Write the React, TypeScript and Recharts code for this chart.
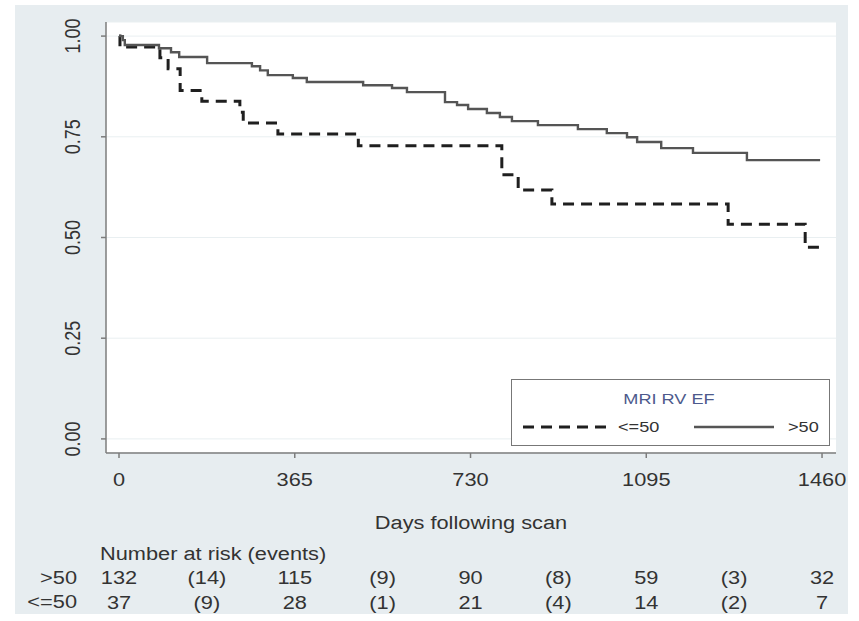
import React from 'react';
import { LineChart, Line, XAxis, YAxis, CartesianGrid, Legend } from 'recharts';

// Kaplan-Meier survival estimates, one point per step (day, survival)
const lowEfCurve = [
  { day: 0, surv: 1 },
  { day: 2, surv: 0.973 },
  { day: 85, surv: 0.946 },
  { day: 102, surv: 0.919 },
  { day: 127, surv: 0.865 },
  { day: 172, surv: 0.838 },
  { day: 251, surv: 0.811 },
  { day: 258, surv: 0.784 },
  { day: 330, surv: 0.757 },
  { day: 497, surv: 0.728 },
  { day: 795, surv: 0.656 },
  { day: 829, surv: 0.618 },
  { day: 899, surv: 0.583 },
  { day: 1265, surv: 0.533 },
  { day: 1425, surv: 0.476 },
  { day: 1458, surv: 0.476 },
];

const highEfCurve = [
  { day: 0, surv: 1 },
  { day: 8, surv: 0.99 },
  { day: 12, surv: 0.978 },
  { day: 83, surv: 0.97 },
  { day: 108, surv: 0.96 },
  { day: 125, surv: 0.948 },
  { day: 183, surv: 0.933 },
  { day: 276, surv: 0.925 },
  { day: 293, surv: 0.915 },
  { day: 309, surv: 0.903 },
  { day: 361, surv: 0.896 },
  { day: 390, surv: 0.886 },
  { day: 507, surv: 0.878 },
  { day: 567, surv: 0.871 },
  { day: 598, surv: 0.861 },
  { day: 677, surv: 0.836 },
  { day: 702, surv: 0.829 },
  { day: 725, surv: 0.819 },
  { day: 764, surv: 0.809 },
  { day: 791, surv: 0.799 },
  { day: 816, surv: 0.789 },
  { day: 870, surv: 0.779 },
  { day: 953, surv: 0.769 },
  { day: 1013, surv: 0.759 },
  { day: 1055, surv: 0.749 },
  { day: 1076, surv: 0.737 },
  { day: 1126, surv: 0.722 },
  { day: 1192, surv: 0.71 },
  { day: 1304, surv: 0.692 },
  { day: 1456, surv: 0.692 },
];

const dayTicks = [0, 365, 730, 1095, 1460];
const survivalTicks = [0, 0.25, 0.5, 0.75, 1];

// number at risk at each tick, events (in brackets) between ticks
const riskDays = [0, 182.5, 365, 547.5, 730, 912.5, 1095, 1277.5, 1460];
const riskHigh = ['132', '(14)', '115', '(9)', '90', '(8)', '59', '(3)', '32'];
const riskLow = ['37', '(9)', '28', '(1)', '21', '(4)', '14', '(2)', '7'];

// rows for the at-risk axes, so each axis has data of its own
const riskRows = riskDays.map((day) => ({ day }));

const FONT = '"Liberation Sans", Arial, sans-serif';
const INK = '#333';
const AXIS = '#7c7c7c';
const DAY_DOMAIN = [-27, 1489];

// Stata output is a touch wide, so text gets stretched horizontally
const Wide = ({ x, y, size = 18, anchor = 'middle', fill = INK, children }: any) => (
  <text
    transform={`translate(${x},${y}) scale(1.21,1)`}
    textAnchor={anchor}
    fontSize={size}
    fontFamily={FONT}
    fill={fill}
  >
    {children}
  </text>
);

const DayTick = ({ x, y, payload }: any) => <Wide x={x} y={y + 28}>{payload.value}</Wide>;

const SurvTick = ({ x, y, payload }: any) => (
  <text
    transform={`translate(${x - 29},${y}) scale(1.2,1) rotate(-90)`}
    dy="0.36em"
    textAnchor="middle"
    fontSize={18}
    fontFamily={FONT}
    fill={INK}
  >
    {payload.value.toFixed(2)}
  </text>
);

const riskTick = (labels: string[]) => (props: any) => {
  const i = riskDays.indexOf(props.payload.value);
  return <Wide x={props.x} y={props.y + 19}>{labels[i]}</Wide>;
};

const renderLegend = () => (
  <div style={{ width: 317, height: 65, border: '1px solid #777', background: '#fff' }}>
    <svg width={317} height={65} style={{ display: 'block' }}>
      <Wide x={157} y={24} size={15} fill="#4d5a8c">MRI RV EF</Wide>
      <line x1={11} y1={47} x2={94} y2={47} stroke="#1f1f1f" strokeWidth={3} strokeDasharray="11 7" />
      <Wide x={106} y={52} size={15} anchor="start">{'<=50'}</Wide>
      <line x1={182} y1={47} x2={262} y2={47} stroke="#555" strokeWidth={2.4} />
      <Wide x={276} y={52} size={15} anchor="start">{'>50'}</Wide>
    </svg>
  </div>
);

export default function App() {
  return (
    <div style={{ position: 'absolute', left: 0, top: 0, width: 859, height: 621, background: '#fff' }}>
      <div style={{ position: 'absolute', left: 15, top: 5, width: 833, height: 609, background: '#e7edf0' }} />
      <div style={{ position: 'absolute', left: 0, top: 0 }}>
        <LineChart width={859} height={621} margin={{ top: 22, right: 23, bottom: 6, left: 46 }}>
          <CartesianGrid vertical={false} stroke="#e9eff1" fill="#fff" />
          <XAxis
            xAxisId="days"
            dataKey="day"
            type="number"
            domain={DAY_DOMAIN}
            ticks={dayTicks}
            allowDataOverflow
            height={112}
            tickSize={5}
            tickMargin={0}
            stroke={AXIS}
            strokeWidth={1.5}
            tick={<DayTick />}
            label={({ viewBox }: any) => (
              <Wide x={viewBox.x + viewBox.width / 2} y={viewBox.y + 76}>Days following scan</Wide>
            )}
          />
          <XAxis
            xAxisId="riskHigh"
            dataKey="day"
            type="number"
            domain={DAY_DOMAIN}
            ticks={riskDays}
            interval={0}
            allowDataOverflow
            height={25}
            tickSize={0}
            tickMargin={0}
            tickLine={false}
            axisLine={false}
            tick={riskTick(riskHigh)}
            label={({ viewBox }: any) => (
              <g>
                <Wide x={viewBox.x - 6} y={viewBox.y - 5} anchor="start">Number at risk (events)</Wide>
                <Wide x={viewBox.x - 29} y={viewBox.y + 19} anchor="end">{'>50'}</Wide>
              </g>
            )}
          />
          <XAxis
            xAxisId="riskLow"
            dataKey="day"
            type="number"
            domain={DAY_DOMAIN}
            ticks={riskDays}
            interval={0}
            allowDataOverflow
            height={25}
            tickSize={0}
            tickMargin={0}
            tickLine={false}
            axisLine={false}
            tick={riskTick(riskLow)}
            label={({ viewBox }: any) => (
              <Wide x={viewBox.x - 29} y={viewBox.y + 18} anchor="end">{'<=50'}</Wide>
            )}
          />
          <YAxis
            type="number"
            domain={[-0.035, 1.035]}
            ticks={survivalTicks}
            allowDataOverflow
            width={60}
            tickSize={5}
            tickMargin={0}
            stroke={AXIS}
            strokeWidth={1.5}
            tick={<SurvTick />}
          />
          <Legend
            layout="vertical"
            align="center"
            verticalAlign="middle"
            wrapperStyle={{ left: 511, top: 379, width: 319, height: 67 }}
            content={renderLegend}
          />
          {/* empty series that only hand the at-risk axes their data */}
          <Line xAxisId="riskHigh" data={riskRows} dataKey={() => null} stroke="none" dot={false} activeDot={false} legendType="none" isAnimationActive={false} />
          <Line xAxisId="riskLow" data={riskRows} dataKey={() => null} stroke="none" dot={false} activeDot={false} legendType="none" isAnimationActive={false} />
          <Line
            xAxisId="days"
            data={lowEfCurve}
            dataKey="surv"
            name="<=50"
            type="stepAfter"
            stroke="#1f1f1f"
            strokeWidth={3}
            strokeDasharray="11 7"
            dot={false}
            activeDot={false}
            isAnimationActive={false}
          />
          <Line
            xAxisId="days"
            data={highEfCurve}
            dataKey="surv"
            name=">50"
            type="stepAfter"
            stroke="#555"
            strokeWidth={2.4}
            dot={false}
            activeDot={false}
            isAnimationActive={false}
          />
        </LineChart>
      </div>
    </div>
  );
}
